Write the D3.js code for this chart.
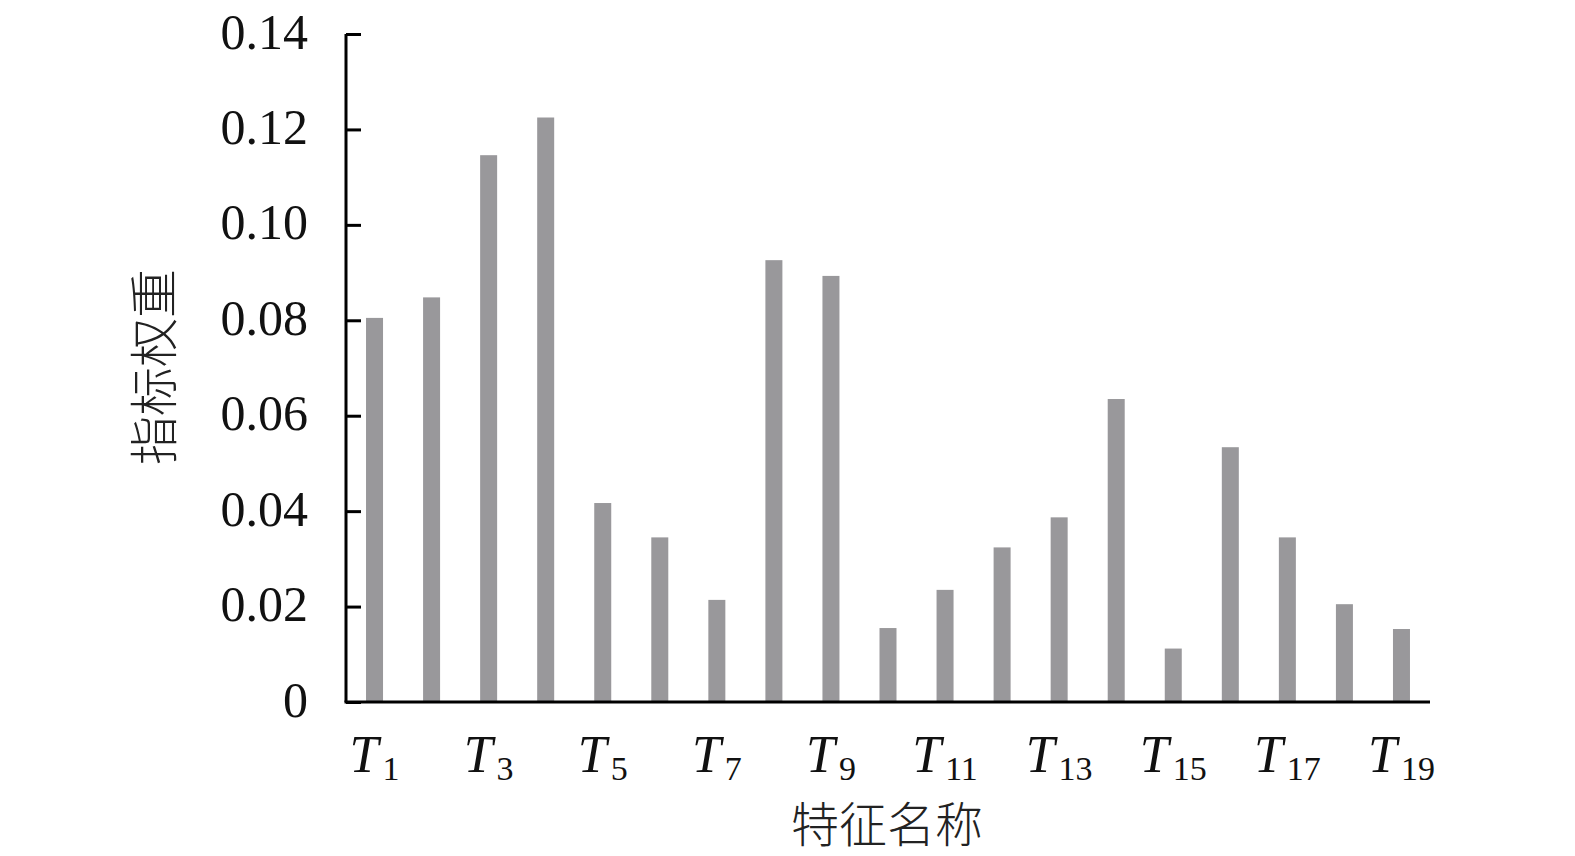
<!DOCTYPE html>
<html><head><meta charset="utf-8">
<script src="https://cdn.jsdelivr.net/npm/d3@7"></script>
<style>body{margin:0;background:#fff}svg{display:block}</style>
</head><body>
<svg id="c" width="1575" height="856"></svg>
<script>
const categories = ["1","2","3","4","5","6","7","8","9","10","11","12","13","14","15","16","17","18","19"];
const values = [0.0805,0.0848,0.1146,0.1225,0.0417,0.0345,0.0214,0.0926,0.0893,0.0155,0.0235,0.0324,0.0387,0.0635,0.0112,0.0534,0.0345,0.0205,0.0153];
const yTicks = [0,0.02,0.04,0.06,0.08,0.10,0.12,0.14];
const yTickLabels = ["0","0.02","0.04","0.06","0.08","0.10","0.12","0.14"];
const xLabelShown = ["1","3","5","7","9","11","13","15","17","19"];
const yTitle = "指标权重";
const xTitle = "特征名称";

const svg = d3.select("#c");
const mLeft = 346, mRight = 1430, mTop = 34, mBottom = 702;
const x = d3.scaleBand().domain(categories).range([mLeft, mRight]).paddingInner(0.7).paddingOuter(0.35);
const y = d3.scaleLinear().domain([0, 0.14]).range([mBottom, mTop]);

svg.append("g").selectAll("rect").data(values).join("rect")
  .attr("x", (d,i) => x(categories[i]) + (x.bandwidth()-17)/2)
  .attr("width", 17)
  .attr("y", d => y(d))
  .attr("height", d => y(0) - y(d))
  .attr("fill", "#99989b");

// y axis
const ya = svg.append("g").attr("transform", `translate(${mLeft},0)`)
  .call(d3.axisLeft(y).tickValues(yTicks).tickSize(-15).tickFormat((d,i)=>yTickLabels[i]).tickPadding(38));
ya.select(".domain").attr("stroke", "#000").attr("stroke-width", 3).attr("d", `M0,${mTop}V${mBottom}`);
ya.selectAll(".tick line").attr("stroke", "#000").attr("stroke-width", 3);
ya.selectAll(".tick text").attr("font-family", "Liberation Serif").attr("font-size", 50).attr("fill", "#111").attr("dy", "0.28em");

// x axis
svg.append("line").attr("x1", mLeft-1.5).attr("x2", mRight).attr("y1", mBottom).attr("y2", mBottom).attr("stroke", "#000").attr("stroke-width", 3);
const xl = svg.append("g").selectAll("text").data(xLabelShown).join("text")
  .attr("x", d => x(d) + x.bandwidth()/2)
  .attr("y", 772)
  .attr("text-anchor", "middle")
  .attr("font-family", "Liberation Serif")
  .attr("fill", "#111");
xl.append("tspan").attr("font-style", "italic").attr("font-size", 52).text("T");
xl.append("tspan").attr("font-size", 34).attr("dx", 4).attr("dy", 8).text(d => d);

svg.append("text").attr("transform", "translate(172,367) rotate(-90)")
  .attr("text-anchor", "middle").attr("font-family", "Noto Sans CJK SC").attr("font-weight", 300).attr("font-size", 49).attr("fill", "#222").text(yTitle);
svg.append("text").attr("x", 887).attr("y", 842)
  .attr("text-anchor", "middle").attr("font-family", "Noto Sans CJK SC").attr("font-weight", 300).attr("font-size", 48).attr("fill", "#222").text(xTitle);
</script>
</body></html>
